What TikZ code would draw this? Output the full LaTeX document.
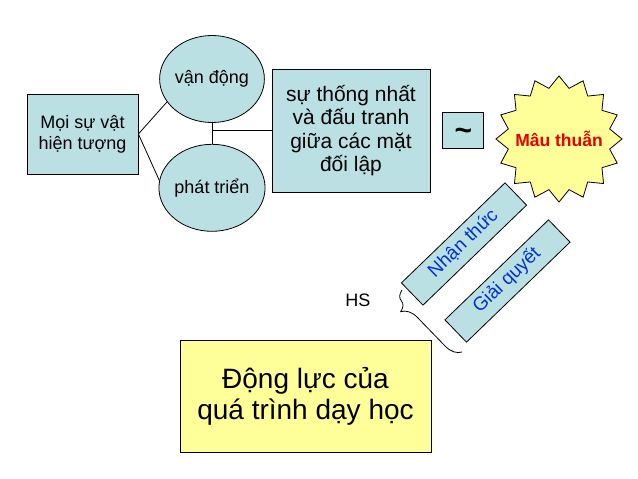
\documentclass[tikz,border=0pt]{standalone}
\usepackage{fontspec}
\setmainfont{Liberation Sans}
\usetikzlibrary{shapes.geometric, positioning, decorations.pathreplacing}
\definecolor{paleblue}{RGB}{187,224,228}
\definecolor{paleyellow}{RGB}{255,255,153}
\definecolor{textblue}{RGB}{0,51,204}
\definecolor{textred}{RGB}{230,0,0}

\begin{document}
\begin{tikzpicture}[
        x=1pt, y=-1pt,
        every node/.style={inner sep=0pt, align=center, font=\fontsize{18}{21}\selectfont},
        bluebox/.style={rectangle, draw=black, fill=paleblue, line width=0.8pt},
        bubble/.style={ellipse, draw=black, fill=paleblue, line width=0.8pt,
            minimum width=97pt, minimum height=87pt},
        slant/.style={rectangle, draw=black, fill=paleblue, line width=0.8pt,
            minimum width=144pt, minimum height=31pt, text height=13pt, text depth=4pt,
            rotate=44, font=\fontsize{19}{22}\selectfont, text=textblue},
        link/.style={draw=black, line width=0.8pt}
    ]
    \useasboundingbox (0,0) rectangle (638,479);

    % Left part
    \node[bluebox, minimum width=111pt, minimum height=80pt] (obj) at (82.5,134) {Mọi sự vật\\hiện tượng};
    \node[bubble] (vd) at (212,79) {vận động};
    \node[bubble, below=21pt of vd] (pt) {phát triển};

    % Middle part
    \node[bluebox, minimum width=158pt, minimum height=123pt,
        font=\fontsize{21}{23.5}\selectfont] (tn) at (351,130.5) {sự thống nhất\\và đấu tranh\\giữa các mặt\\đối lập};
    \node[bluebox, minimum width=41pt, minimum height=36pt, text height=20pt, text depth=0pt,
        font=\fontsize{30}{30}\selectfont\bfseries, right=12pt of tn] (td) {\textasciitilde};
    \node[star, star points=16, star point ratio=1.22, minimum size=126pt,
        draw=black, fill=paleyellow, line width=0.8pt] (mt) at (559,139) {};
    \node[font=\fontsize{17.5}{20}\selectfont\bfseries, text=textred] (mtl) at (mt) {Mâu thuẫn};

    % Slanted boxes
    \node[slant] (nt) at (464,244) {Nhận thức};
    \node[slant] (gq) at (507.5,281) {Giải quyết};

    % Bottom part
    \node[rectangle, draw=black, fill=paleyellow, line width=0.8pt,
        minimum width=251pt, minimum height=112pt,
        font=\fontsize{28}{31}\selectfont] (dl) at (305.5,396) {Động lực của\\quá trình dạy học};
    \node (hs) at (358,300) {HS};
    \coordinate (br1) at (462,352);
    \coordinate (br2) at (402,290);

    % Connectors
    \draw[link] (obj.east) -- (vd.207);
    \draw[link] (obj.east) -- (pt.172);
    \draw[link] (vd) -- (pt);
    \draw[link] (tn.west) -- (tn.west -| vd.south);
    \draw[link, decorate, decoration={brace, amplitude=16pt, aspect=0.83}] (br1) -- (br2);

\end{tikzpicture}
\end{document}
